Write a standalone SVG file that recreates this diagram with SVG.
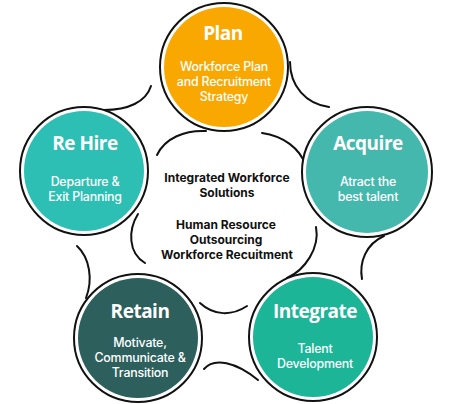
<svg xmlns="http://www.w3.org/2000/svg" width="450" height="404" viewBox="0 0 450 404">
<style>
.ring{fill:#fff;stroke:#111;stroke-width:2}
.con{fill:none;stroke:#111;stroke-width:2;stroke-linecap:round}
.t{font-family:"Open Sans","Liberation Sans",sans-serif;font-weight:700;font-size:19px;fill:#fff;text-anchor:middle;letter-spacing:-0.5px}
.s{font-family:Inter,"Open Sans","Liberation Sans",sans-serif;font-weight:500;font-size:12.4px;fill:#fff;text-anchor:middle;letter-spacing:-0.2px}
.c{font-family:Inter,"Open Sans","Liberation Sans",sans-serif;font-weight:700;font-size:12px;fill:#111;text-anchor:middle;letter-spacing:0px}
</style>
<rect width="450" height="404" fill="#fff"/>
<g id="connectors">
<path class="con" d="M151,86 C146,102 128,110 104,110"/>
<path class="con" d="M290,62 C290,86 306,104 329,107"/>
<path class="con" d="M77,246 C90,258 93,280 86,298"/>
<path class="con" d="M384,236 C366,244 359,262 362,279"/>
<path class="con" d="M204,369 C214,357 236,362 258,380"/>
<path class="con" d="M157,155 C165,138 185,130 206,131"/>
<path class="con" d="M262,133 C283,136 300,148 306,166"/>
<path class="con" d="M316,227 C320,248 305,270 287,278"/>
<path class="con" d="M200,303 C214,316 232,316 247,306"/>
<path class="con" d="M145,263 C128,253 128,230 138,214"/>
</g>
<g id="plan">
<circle class="ring" cx="224" cy="67" r="64"/>
<circle cx="224" cy="67" r="60" fill="#F8A800"/>
<text class="t" x="223" y="40">Plan</text>
<text class="s" x="224" y="71">Workforce Plan</text>
<text class="s" x="224" y="86">and Recruitment</text>
<text class="s" x="224" y="101">Strategy</text>
</g>
<g id="rehire">
<circle class="ring" cx="84" cy="171" r="64"/>
<circle cx="84" cy="171" r="60" fill="#2DBFB3"/>
<text class="t" x="85" y="150">Re Hire</text>
<text class="s" x="85" y="186">Departure &amp;</text>
<text class="s" x="85" y="201">Exit Planning</text>
</g>
<g id="acquire">
<circle class="ring" cx="367" cy="172" r="65"/>
<circle cx="367" cy="172" r="61" fill="#45B8AE"/>
<text class="t" x="368" y="150">Acquire</text>
<text class="s" x="368" y="186">Atract the</text>
<text class="s" x="368" y="201">best talent</text>
</g>
<g id="retain">
<circle class="ring" cx="138" cy="338" r="64"/>
<circle cx="138" cy="338" r="60" fill="#2D5F5D"/>
<text class="t" x="140" y="318">Retain</text>
<text class="s" x="140" y="347">Motivate,</text>
<text class="s" x="140" y="362">Communicate &amp;</text>
<text class="s" x="140" y="377">Transition</text>
</g>
<g id="integrate">
<circle class="ring" cx="313" cy="337" r="64"/>
<circle cx="313" cy="337" r="60" fill="#1CB597"/>
<text class="t" x="315" y="318">Integrate</text>
<text class="s" x="315" y="353">Talent</text>
<text class="s" x="315" y="368">Development</text>
</g>
<g id="center">
<text class="c" x="227" y="182">Integrated Workforce</text>
<text class="c" x="227" y="197">Solutions</text>
<text class="c" x="226" y="229">Human Resource</text>
<text class="c" x="226" y="244">Outsourcing</text>
<text class="c" x="227" y="259">Workforce Recuitment</text>
</g>
</svg>
